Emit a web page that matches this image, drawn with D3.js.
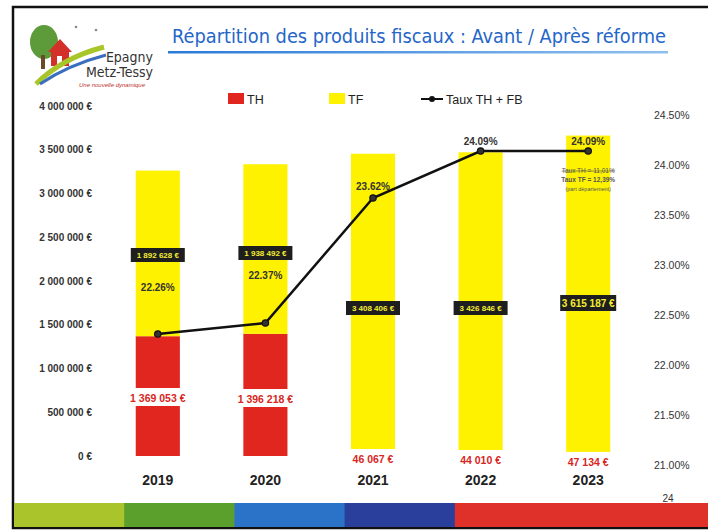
<!DOCTYPE html>
<html>
<head>
<meta charset="utf-8">
<script src="https://cdn.jsdelivr.net/npm/d3@7"></script>
<style>
  html, body { margin: 0; padding: 0; background: #fff; }
  svg { display: block; }
</style>
</head>
<body>
<div id="chart"></div>
<script>
// data
const years = ['2019', '2020', '2021', '2022', '2023'];
const thValues = [1369053, 1396218, 46067, 44010, 47134];
const tfValues = [1892628, 1938492, 3408406, 3426846, 3615187];
const tauxValues = [22.26, 22.37, 23.62, 24.09, 24.09];
const thLabels = ['1 369 053 €', '1 396 218 €', '46 067 €', '44 010 €', '47 134 €'];
const tfLabels = ['1 892 628 €', '1 938 492 €', '3 408 406 €', '3 426 846 €', '3 615 187 €'];
const tauxLabels = ['22.26%', '22.37%', '23.62%', '24.09%', '24.09%'];
const leftTicks = [0, 500000, 1000000, 1500000, 2000000, 2500000, 3000000, 3500000, 4000000];
const rightTicks = [21, 21.5, 22, 22.5, 23, 23.5, 24, 24.5];
const footerColors = ['#a9c52b', '#5b9f2c', '#2b73c9', '#2a3f9b', '#e0302a'];

const width = 708, height = 532;
const svg = d3.select('#chart').append('svg')
  .attr('width', width).attr('height', height)
  .style('font-family', '"Liberation Sans", Arial, sans-serif');

const x = d3.scaleBand().domain(years).range([104, 642]).paddingInner(0.59).paddingOuter(0.295);
const y = d3.scaleLinear().domain([0, 4000000]).range([456, 106]);
const yR = d3.scaleLinear().domain([21, 24.5]).range([460, 110]);

const fmtEur = d => d3.format(',')(d).replace(/,/g, ' ') + ' €';

// slide frame
svg.append('rect').attr('x', 13).attr('y', 7).attr('width', 720).attr('height', 521)
  .attr('fill', 'none').attr('stroke', '#111').attr('stroke-width', 2.5);

// footer colour band
const fx = d3.scaleBand().domain(d3.range(5)).range([14, 565]);
svg.append('g').selectAll('rect').data(footerColors).enter().append('rect')
  .attr('x', (d, i) => fx(i))
  .attr('y', 503)
  .attr('width', (d, i) => i === 4 ? width - fx(i) : fx.bandwidth() + 1)
  .attr('height', 24)
  .attr('fill', d => d);
svg.append('text').attr('x', 668).attr('y', 502).attr('font-size', 10)
  .attr('fill', '#333').attr('text-anchor', 'middle').text('24');

// logo
const logo = svg.append('g');
logo.append('ellipse').attr('cx', 44).attr('cy', 42).attr('rx', 14).attr('ry', 17).attr('fill', '#5d9a3a');
logo.append('rect').attr('x', 41).attr('y', 55).attr('width', 4).attr('height', 14).attr('fill', '#6b4a2a');
logo.append('path').attr('d', 'M48,52 L60,39 L72,52 L69,52 L69,66 L51,66 L51,52 Z').attr('fill', '#d3302a');
logo.append('rect').attr('x', 57).attr('y', 56).attr('width', 5).attr('height', 10).attr('fill', '#fff');
logo.append('path').attr('d', 'M36,84 Q62,58 104,47').attr('fill', 'none').attr('stroke', '#a8c62a').attr('stroke-width', 5);
logo.append('path').attr('d', 'M40,84 Q68,65 106,55').attr('fill', 'none').attr('stroke', '#3a6fc0').attr('stroke-width', 3);
logo.append('circle').attr('cx', 76).attr('cy', 27).attr('r', 1.3).attr('fill', '#888');
logo.append('circle').attr('cx', 96).attr('cy', 30).attr('r', 1.3).attr('fill', '#888');
logo.append('text').attr('x', 153).attr('y', 62).attr('text-anchor', 'end')
  .attr('font-size', 14).attr('fill', '#333').style('font-family', '"DejaVu Sans Condensed", "DejaVu Sans", sans-serif').text('Epagny');
logo.append('text').attr('x', 153).attr('y', 77).attr('text-anchor', 'end')
  .attr('font-size', 14).attr('fill', '#333').style('font-family', '"DejaVu Sans Condensed", "DejaVu Sans", sans-serif').text('Metz-Tessy');
logo.append('text').attr('x', 112).attr('y', 87).attr('text-anchor', 'middle')
  .attr('font-size', 6).attr('font-style', 'italic').attr('fill', '#c0302a').text('Une nouvelle dynamique');

// title
svg.append('text').attr('x', 172).attr('y', 43)
  .attr('font-size', 19).attr('fill', '#2566c8')
  .attr('textLength', 494).attr('lengthAdjust', 'spacingAndGlyphs')
  .style('font-family', '"DejaVu Sans Condensed", "DejaVu Sans", sans-serif')
  .text('Répartition des produits fiscaux : Avant / Après réforme');
const grad = svg.append('defs').append('linearGradient').attr('id', 'ul');
grad.append('stop').attr('offset', '0%').attr('stop-color', '#2a78d8');
grad.append('stop').attr('offset', '100%').attr('stop-color', '#8fc0ee');
svg.append('rect').attr('x', 168).attr('y', 51).attr('width', 500).attr('height', 2.5).attr('fill', 'url(#ul)');

// legend
const legend = svg.append('g').attr('font-size', 12.5).attr('fill', '#222');
legend.append('rect').attr('x', 228).attr('y', 93).attr('width', 16).attr('height', 11).attr('fill', '#e0261e');
legend.append('text').attr('x', 247).attr('y', 104).text('TH');
legend.append('rect').attr('x', 329).attr('y', 93).attr('width', 16).attr('height', 11).attr('fill', '#fff200');
legend.append('text').attr('x', 348).attr('y', 104).text('TF');
legend.append('line').attr('x1', 421).attr('x2', 443).attr('y1', 99).attr('y2', 99).attr('stroke', '#111').attr('stroke-width', 2);
legend.append('circle').attr('cx', 432).attr('cy', 99).attr('r', 3).attr('fill', '#111');
legend.append('text').attr('x', 446).attr('y', 104).text('Taux TH + FB');

// axes (labels only)
const yAxis = d3.axisLeft(y).tickValues(leftTicks).tickSize(0).tickPadding(0).tickFormat(fmtEur);
svg.append('g').attr('transform', 'translate(92,0)').call(yAxis)
  .call(g => g.select('.domain').remove())
  .selectAll('text').attr('font-size', 10).attr('font-weight', 'bold').attr('fill', '#333')
  .style('font-family', '"Liberation Sans", Arial, sans-serif');

const yRAxis = d3.axisRight(yR).tickValues(rightTicks).tickSize(0).tickPadding(0)
  .tickFormat(d => d3.format('.2f')(d) + '%');
svg.append('g').attr('transform', 'translate(654,5)').call(yRAxis)
  .call(g => g.select('.domain').remove())
  .selectAll('text').attr('font-size', 10.5).attr('fill', '#333')
  .style('font-family', '"Liberation Sans", Arial, sans-serif');

const xAxis = d3.axisBottom(x).tickSize(0).tickPadding(0);
svg.append('g').attr('transform', 'translate(0,475)').call(xAxis)
  .call(g => g.select('.domain').remove())
  .selectAll('text').attr('font-size', 14).attr('font-weight', 'bold').attr('fill', '#222')
  .style('font-family', '"Liberation Sans", Arial, sans-serif');

// stacked bars
const rows = years.map((yr, i) => ({ yr, th: thValues[i], tf: tfValues[i], i }));
svg.append('g').selectAll('rect').data(rows).enter().append('rect')
  .attr('x', d => x(d.yr)).attr('width', x.bandwidth())
  .attr('y', d => y(d.th)).attr('height', d => y(0) - y(d.th))
  .attr('fill', '#e0261e');
svg.append('g').selectAll('rect').data(rows).enter().append('rect')
  .attr('x', d => x(d.yr)).attr('width', x.bandwidth())
  .attr('y', d => y(d.th + d.tf)).attr('height', d => y(d.th) - y(d.th + d.tf))
  .attr('fill', '#fff200');

// TH labels on white boxes
const thPos = [398, 399, 459, 460, 462];
const thG = svg.append('g').selectAll('g').data(rows).enter().append('g')
  .attr('transform', d => `translate(${x(d.yr) + x.bandwidth() / 2},${thPos[d.i]})`);
thG.append('rect').attr('x', -33).attr('y', -10).attr('width', 66).attr('height', 18).attr('fill', '#fff');
thG.append('text').attr('text-anchor', 'middle').attr('dy', '0.35em')
  .attr('font-size', 10.5).attr('font-weight', 'bold').attr('fill', '#d8261e')
  .text(d => thLabels[d.i]);

// TF labels on dark boxes
const tfPos = [255, 253, 308, 308, 303];
const tfG = svg.append('g').selectAll('g').data(rows).enter().append('g')
  .attr('transform', d => `translate(${x(d.yr) + x.bandwidth() / 2},${tfPos[d.i]})`);
tfG.append('rect').attr('x', d => d.i === 4 ? -28 : -27).attr('y', d => d.i === 4 ? -8 : -7)
  .attr('width', d => d.i === 4 ? 56 : 54).attr('height', d => d.i === 4 ? 16 : 14).attr('fill', '#1e1e1e');
tfG.append('text').attr('text-anchor', 'middle').attr('dy', '0.35em')
  .attr('font-size', d => d.i === 4 ? 10 : 8).attr('font-weight', 'bold').attr('fill', '#f4ee30')
  .text(d => tfLabels[d.i]);

// rate line
const line = d3.line().x(d => x(d.yr) + x.bandwidth() / 2).y(d => yR(tauxValues[d.i]));
svg.append('path').datum(rows).attr('d', line)
  .attr('fill', 'none').attr('stroke', '#111').attr('stroke-width', 2.5);
svg.append('g').selectAll('circle').data(rows).enter().append('circle')
  .attr('cx', d => x(d.yr) + x.bandwidth() / 2).attr('cy', d => yR(tauxValues[d.i]))
  .attr('r', 3.2).attr('fill', '#333').attr('stroke', '#111').attr('stroke-width', 1.2);

const tauxPos = [287, 275, 186, 141, 141];
svg.append('g').selectAll('text').data(rows).enter().append('text')
  .attr('x', d => x(d.yr) + x.bandwidth() / 2).attr('y', d => tauxPos[d.i])
  .attr('text-anchor', 'middle').attr('dy', '0.35em')
  .attr('font-size', 10).attr('font-weight', 'bold').attr('fill', '#333')
  .text(d => tauxLabels[d.i]);

// small note under 2023 point
const cx23 = x('2023') + x.bandwidth() / 2;
const note = svg.append('g').attr('text-anchor', 'middle').attr('font-size', 6.5).attr('fill', '#555');
note.append('text').attr('x', cx23).attr('y', 173).attr('text-decoration', 'line-through').text('Taux TH = 11,01%');
note.append('text').attr('x', cx23).attr('y', 182).attr('font-weight', 'bold').text('Taux TF = 12,39%');
note.append('text').attr('x', cx23).attr('y', 191).attr('font-size', 5.5).text('(part département)');
</script>
</body>
</html>
